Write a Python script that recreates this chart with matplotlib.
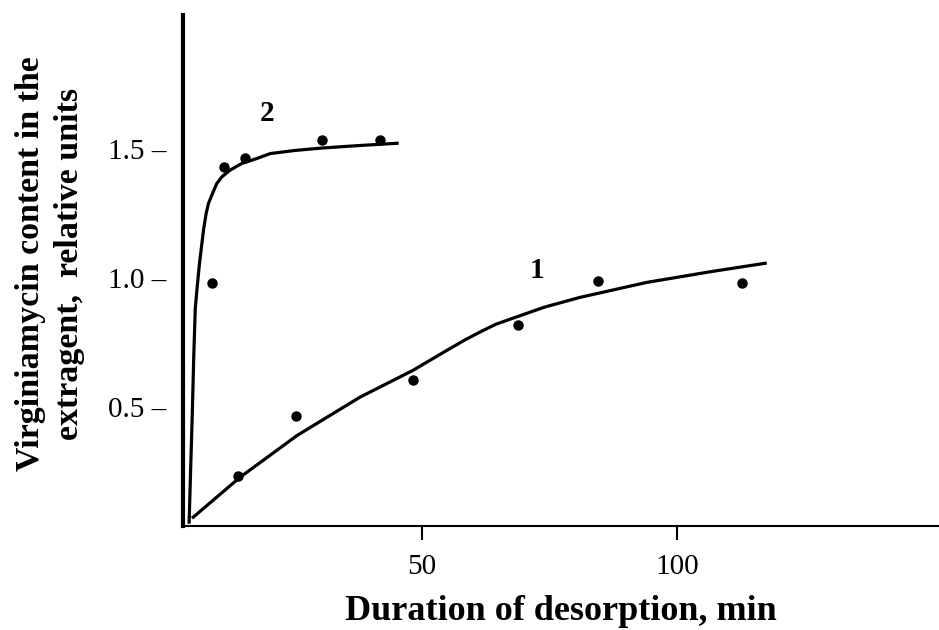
import matplotlib
matplotlib.use("Agg")
import matplotlib.pyplot as plt

plt.rcParams['font.family'] = ['Liberation Serif', 'DejaVu Serif']

# measured points, curve 1
t1 = [13.9, 25.3, 48.2, 68.8, 84.5, 112.7]
c1 = [0.233, 0.465, 0.605, 0.82, 0.99, 0.98]
# measured points, curve 2
t2 = [8.8, 11.2, 15.3, 30.4, 41.8]
c2 = [0.98, 1.43, 1.465, 1.535, 1.535]

# drawn curves
fit1_t = [5.1, 14.3, 25.5, 37.8, 48.2, 54.9, 58.5, 61.4, 64.5, 67.8, 74.0, 81.0, 94.1, 107.1, 117.3]
fit1_c = [0.074, 0.229, 0.391, 0.539, 0.643, 0.721, 0.762, 0.792, 0.822, 0.845, 0.888, 0.926,
          0.984, 1.027, 1.058]
fit2_t = [4.3, 4.6, 4.9, 5.2, 5.5, 5.82, 6.33, 7.12, 7.65, 8.10, 8.88, 9.73, 10.73,
          12.35, 14.65, 17.59, 20.2, 25.0, 30.0, 37.5, 45.1]
fit2_c = [0.055, 0.26, 0.46, 0.69, 0.88, 0.953, 1.057, 1.186, 1.252, 1.290, 1.328, 1.367, 1.393,
          1.419, 1.445, 1.464, 1.483, 1.495, 1.504, 1.514, 1.523]

xticks = [50, 100]
yticks = [0.5, 1.0, 1.5]

fig = plt.figure(figsize=(9.39, 6.3), dpi=100)
ax = fig.add_axes([183 / 939, 1 - 526 / 630, 1 - 183 / 939, (526 - 15) / 630])

ax.plot(fit1_t, fit1_c, color='black', lw=2.3, solid_joinstyle='round')
ax.plot(fit2_t, fit2_c, color='black', lw=2.3, solid_joinstyle='round')
ax.plot(t1, c1, 'o', color='black', ms=6.5)
ax.plot(t2, c2, 'o', color='black', ms=6.5)

ax.text(72.5, 1.03, '1', fontsize=21, fontweight='bold', ha='center', va='center')
ax.text(19.6, 1.64, '2', fontsize=21, fontweight='bold', ha='center', va='center')

ax.set_xlim(3.1, 151.4)
ax.set_ylim(0.04, 2.02)

ax.spines['top'].set_visible(False)
ax.spines['right'].set_visible(False)
ax.spines['left'].set_linewidth(3)
ax.spines['bottom'].set_linewidth(1.5)

ax.set_xticks(xticks)
ax.set_xticklabels([str(v) for v in xticks], fontsize=21)
ax.tick_params(axis='x', direction='out', length=10, width=1.5, pad=10)

ax.set_yticks(yticks)
ax.set_yticklabels([f'{v:.1f} \u2013' for v in yticks], fontsize=21)
ax.tick_params(axis='y', length=0, pad=12)

fig.text(50 / 939, 1 - 264 / 630, 'Virginiamycin content in the\nextragent,  relative units',
         rotation=90, ha='center', va='center', multialignment='center',
         fontsize=24.5, fontweight='bold', linespacing=1.3)
fig.text(0.5 * (183 + 939) / 939, 1 - 620 / 630, 'Duration of desorption, min',
         ha='center', va='baseline', fontsize=26, fontweight='bold')

fig.savefig('out.png', dpi=100)
